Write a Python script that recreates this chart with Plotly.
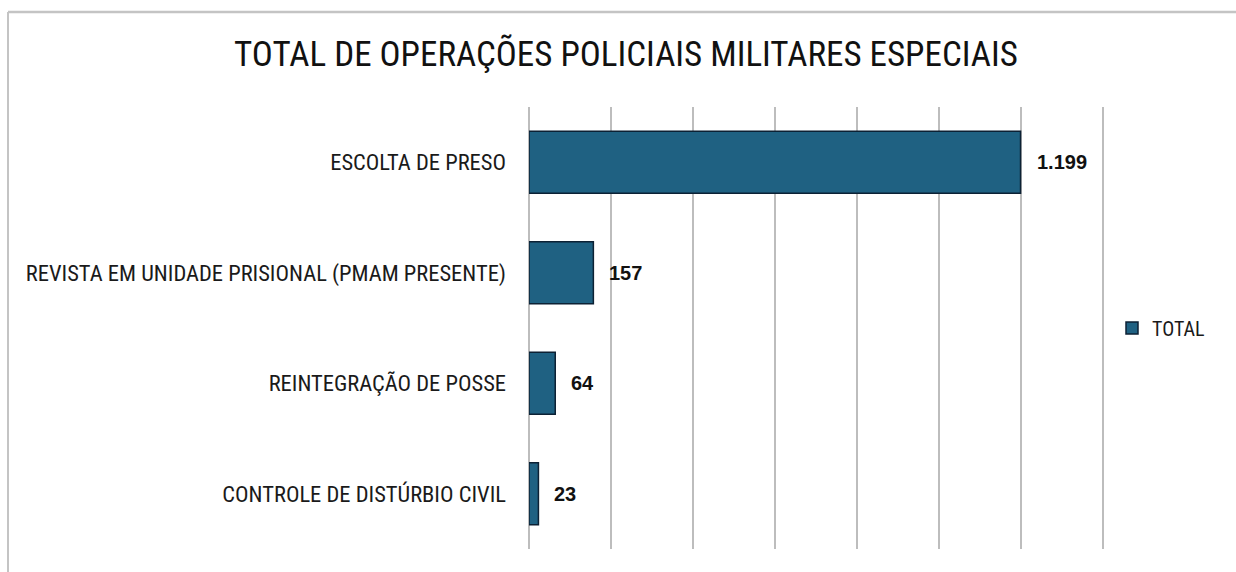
import plotly.graph_objects as go

categories = [
    "ESCOLTA DE PRESO",
    "REVISTA EM UNIDADE PRISIONAL (PMAM PRESENTE)",
    "REINTEGRAÇÃO DE POSSE",
    "CONTROLE DE DISTÚRBIO CIVIL",
]
values = [1199, 157, 64, 23]
value_labels = ["1.199", "157", "64", "23"]
series_name = "TOTAL"
title_text = "TOTAL DE OPERAÇÕES POLICIAIS MILITARES ESPECIAIS"

W, H = 1236, 572
ML, MR, MT, MB = 529, 131, 107, 23
PW, PH = W - ML - MR, H - MT - MB

NARROW = "Liberation Sans Narrow, Arial Narrow, Roboto Condensed, Liberation Sans, Arial, sans-serif"

fig = go.Figure()
fig.add_trace(go.Bar(
    x=values,
    y=categories,
    orientation="h",
    name=series_name,
    marker=dict(color="#1f6182", line=dict(color="#0c2134", width=1.5)),
    width=0.56,
    showlegend=True,
))

for c, v, t in zip(categories, values, value_labels):
    fig.add_annotation(
        x=v, y=c, text=f"<b>{t}</b>", showarrow=False,
        xanchor="left", yanchor="middle", xshift=14,
        font=dict(family="Liberation Sans, Arial, sans-serif", size=20, color="#111111"),
    )

def px_x(px):
    return (px - ML) / PW

def px_y(py):
    return (H - MB - py) / PH

# outer chart frame (top and left edges)
fig.add_shape(type="line", xref="paper", yref="paper",
              x0=px_x(8), x1=px_x(W + 5), y0=px_y(12), y1=px_y(12),
              line=dict(color="#c4c4c4", width=2.5))
fig.add_shape(type="line", xref="paper", yref="paper",
              x0=px_x(8), x1=px_x(8), y0=px_y(12), y1=px_y(H + 5),
              line=dict(color="#c4c4c4", width=2))

fig.update_layout(
    width=W, height=H,
    margin=dict(l=ML, r=MR, t=MT, b=MB, pad=0),
    paper_bgcolor="white", plot_bgcolor="white",
    title=dict(text=title_text, x=626 / W, xanchor="center",
               y=1 - 54 / H, yanchor="middle",
               font=dict(family=NARROW, size=35, color="#111111")),
    xaxis=dict(range=[0, 1405], tickvals=[0, 200, 400, 600, 800, 1000, 1200, 1400],
               showticklabels=False,
               showgrid=True, gridcolor="#bdbdbd", gridwidth=1.5,
               zeroline=True, zerolinecolor="#bdbdbd", zerolinewidth=1.5,
               showline=False, fixedrange=True),
    yaxis=dict(autorange="reversed", showgrid=False, showline=False,
               ticklabelstandoff=22, fixedrange=True,
               tickfont=dict(family=NARROW, size=22.5, color="#1a1a1a")),
    legend=dict(x=px_x(1112), xanchor="left", y=px_y(328), yanchor="middle",
                font=dict(family=NARROW, size=20, color="#1a1a1a"),
                bgcolor="rgba(0,0,0,0)"),
    bargap=0.44,
)

fig.write_html("out.html", config={"displayModeBar": False},
               post_script="document.body.style.margin='0';document.body.style.overflow='hidden';")
